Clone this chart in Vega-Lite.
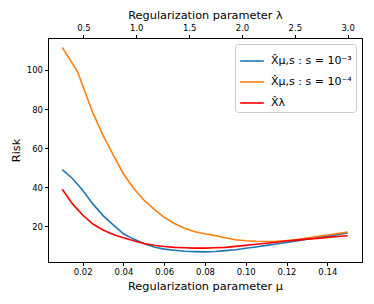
{
  "$schema": "https://vega.github.io/schema/vega-lite/v6.json",
  "width": 314,
  "height": 224,
  "autosize": {"type": "none"},
  "padding": {"left": 48, "top": 38, "right": 12, "bottom": 42},
  "config": {
    "font": "DejaVu Sans",
    "view": {"stroke": "black", "strokeWidth": 1},
    "axis": {
      "grid": false,
      "labelFontSize": 8.5,
      "titleFontSize": 11.3,
      "titleFontWeight": "normal",
      "labelColor": "black",
      "titleColor": "black",
      "tickColor": "black",
      "domainColor": "black",
      "tickSize": 3.5,
      "labelPadding": 2
    }
  },
  "datasets": {
    "curves": [
      {"series": "X̂μ,s : s = 10⁻³", "mu": 0.01, "risk": 49},
      {"series": "X̂μ,s : s = 10⁻³", "mu": 0.015, "risk": 44.5},
      {"series": "X̂μ,s : s = 10⁻³", "mu": 0.02, "risk": 38.5},
      {"series": "X̂μ,s : s = 10⁻³", "mu": 0.025, "risk": 31.5},
      {"series": "X̂μ,s : s = 10⁻³", "mu": 0.03, "risk": 25.5},
      {"series": "X̂μ,s : s = 10⁻³", "mu": 0.035, "risk": 20.8},
      {"series": "X̂μ,s : s = 10⁻³", "mu": 0.04, "risk": 16.2},
      {"series": "X̂μ,s : s = 10⁻³", "mu": 0.045, "risk": 13.5},
      {"series": "X̂μ,s : s = 10⁻³", "mu": 0.05, "risk": 11.3},
      {"series": "X̂μ,s : s = 10⁻³", "mu": 0.055, "risk": 9.5},
      {"series": "X̂μ,s : s = 10⁻³", "mu": 0.06, "risk": 8.4},
      {"series": "X̂μ,s : s = 10⁻³", "mu": 0.065, "risk": 7.8},
      {"series": "X̂μ,s : s = 10⁻³", "mu": 0.07, "risk": 7.3},
      {"series": "X̂μ,s : s = 10⁻³", "mu": 0.075, "risk": 7.1},
      {"series": "X̂μ,s : s = 10⁻³", "mu": 0.08, "risk": 7.0},
      {"series": "X̂μ,s : s = 10⁻³", "mu": 0.085, "risk": 7.2},
      {"series": "X̂μ,s : s = 10⁻³", "mu": 0.09, "risk": 7.6},
      {"series": "X̂μ,s : s = 10⁻³", "mu": 0.095, "risk": 8.1},
      {"series": "X̂μ,s : s = 10⁻³", "mu": 0.1, "risk": 8.8},
      {"series": "X̂μ,s : s = 10⁻³", "mu": 0.105, "risk": 9.5},
      {"series": "X̂μ,s : s = 10⁻³", "mu": 0.11, "risk": 10.3},
      {"series": "X̂μ,s : s = 10⁻³", "mu": 0.115, "risk": 11.0},
      {"series": "X̂μ,s : s = 10⁻³", "mu": 0.12, "risk": 11.8},
      {"series": "X̂μ,s : s = 10⁻³", "mu": 0.125, "risk": 12.6},
      {"series": "X̂μ,s : s = 10⁻³", "mu": 0.13, "risk": 13.4},
      {"series": "X̂μ,s : s = 10⁻³", "mu": 0.135, "risk": 14.2},
      {"series": "X̂μ,s : s = 10⁻³", "mu": 0.14, "risk": 14.9},
      {"series": "X̂μ,s : s = 10⁻³", "mu": 0.145, "risk": 15.8},
      {"series": "X̂μ,s : s = 10⁻³", "mu": 0.15, "risk": 16.6},
      {"series": "X̂μ,s : s = 10⁻⁴", "mu": 0.01, "risk": 111.5},
      {"series": "X̂μ,s : s = 10⁻⁴", "mu": 0.0175, "risk": 99},
      {"series": "X̂μ,s : s = 10⁻⁴", "mu": 0.02, "risk": 92},
      {"series": "X̂μ,s : s = 10⁻⁴", "mu": 0.025, "risk": 78},
      {"series": "X̂μ,s : s = 10⁻⁴", "mu": 0.03, "risk": 66.5},
      {"series": "X̂μ,s : s = 10⁻⁴", "mu": 0.035, "risk": 56.5},
      {"series": "X̂μ,s : s = 10⁻⁴", "mu": 0.04, "risk": 46.8},
      {"series": "X̂μ,s : s = 10⁻⁴", "mu": 0.045, "risk": 39.5},
      {"series": "X̂μ,s : s = 10⁻⁴", "mu": 0.05, "risk": 33.5},
      {"series": "X̂μ,s : s = 10⁻⁴", "mu": 0.055, "risk": 28.8},
      {"series": "X̂μ,s : s = 10⁻⁴", "mu": 0.06, "risk": 24.6},
      {"series": "X̂μ,s : s = 10⁻⁴", "mu": 0.065, "risk": 21.5},
      {"series": "X̂μ,s : s = 10⁻⁴", "mu": 0.07, "risk": 19.1},
      {"series": "X̂μ,s : s = 10⁻⁴", "mu": 0.075, "risk": 17.3},
      {"series": "X̂μ,s : s = 10⁻⁴", "mu": 0.08, "risk": 16.2},
      {"series": "X̂μ,s : s = 10⁻⁴", "mu": 0.085, "risk": 15.3},
      {"series": "X̂μ,s : s = 10⁻⁴", "mu": 0.09, "risk": 14.2},
      {"series": "X̂μ,s : s = 10⁻⁴", "mu": 0.095, "risk": 13.2},
      {"series": "X̂μ,s : s = 10⁻⁴", "mu": 0.1, "risk": 12.7},
      {"series": "X̂μ,s : s = 10⁻⁴", "mu": 0.105, "risk": 12.4},
      {"series": "X̂μ,s : s = 10⁻⁴", "mu": 0.11, "risk": 12.3},
      {"series": "X̂μ,s : s = 10⁻⁴", "mu": 0.115, "risk": 12.4},
      {"series": "X̂μ,s : s = 10⁻⁴", "mu": 0.12, "risk": 12.8},
      {"series": "X̂μ,s : s = 10⁻⁴", "mu": 0.125, "risk": 13.3},
      {"series": "X̂μ,s : s = 10⁻⁴", "mu": 0.13, "risk": 14.0},
      {"series": "X̂μ,s : s = 10⁻⁴", "mu": 0.135, "risk": 14.8},
      {"series": "X̂μ,s : s = 10⁻⁴", "mu": 0.14, "risk": 15.6},
      {"series": "X̂μ,s : s = 10⁻⁴", "mu": 0.145, "risk": 16.3},
      {"series": "X̂μ,s : s = 10⁻⁴", "mu": 0.15, "risk": 17.1},
      {"series": "X̂λ", "mu": 0.01, "risk": 39},
      {"series": "X̂λ", "mu": 0.015, "risk": 31.5},
      {"series": "X̂λ", "mu": 0.02, "risk": 25.8},
      {"series": "X̂λ", "mu": 0.025, "risk": 21.2},
      {"series": "X̂λ", "mu": 0.03, "risk": 18.2},
      {"series": "X̂λ", "mu": 0.035, "risk": 15.9},
      {"series": "X̂λ", "mu": 0.04, "risk": 14.2},
      {"series": "X̂λ", "mu": 0.045, "risk": 12.7},
      {"series": "X̂λ", "mu": 0.05, "risk": 11.3},
      {"series": "X̂λ", "mu": 0.055, "risk": 10.4},
      {"series": "X̂λ", "mu": 0.06, "risk": 9.7},
      {"series": "X̂λ", "mu": 0.065, "risk": 9.3},
      {"series": "X̂λ", "mu": 0.07, "risk": 9.1},
      {"series": "X̂λ", "mu": 0.075, "risk": 8.9},
      {"series": "X̂λ", "mu": 0.08, "risk": 8.9},
      {"series": "X̂λ", "mu": 0.085, "risk": 9.1},
      {"series": "X̂λ", "mu": 0.09, "risk": 9.3},
      {"series": "X̂λ", "mu": 0.095, "risk": 9.8},
      {"series": "X̂λ", "mu": 0.1, "risk": 10.3},
      {"series": "X̂λ", "mu": 0.105, "risk": 10.9},
      {"series": "X̂λ", "mu": 0.11, "risk": 11.4},
      {"series": "X̂λ", "mu": 0.115, "risk": 11.9},
      {"series": "X̂λ", "mu": 0.12, "risk": 12.5},
      {"series": "X̂λ", "mu": 0.125, "risk": 13.0},
      {"series": "X̂λ", "mu": 0.13, "risk": 13.5},
      {"series": "X̂λ", "mu": 0.135, "risk": 13.9},
      {"series": "X̂λ", "mu": 0.14, "risk": 14.4},
      {"series": "X̂λ", "mu": 0.145, "risk": 14.8},
      {"series": "X̂λ", "mu": 0.15, "risk": 15.2}
    ],
    "lambdas": [
      {"lambda": 0.3},
      {"lambda": 3.0}
    ]
  },
  "layer": [
    {
      "data": {"name": "curves"},
      "mark": {"type": "line", "strokeWidth": 1.6},
      "encoding": {
        "x": {
          "field": "mu", "type": "quantitative",
          "scale": {"domain": [0.003, 0.157], "nice": false, "zero": false},
          "axis": {
            "orient": "bottom",
            "title": "Regularization parameter μ",
            "values": [0.02, 0.04, 0.06, 0.08, 0.1, 0.12, 0.14],
            "format": ".2f",
            "titlePadding": 4
          }
        },
        "y": {
          "field": "risk", "type": "quantitative",
          "scale": {"domain": [1.8, 116.3], "nice": false, "zero": false},
          "axis": {
            "title": "Risk",
            "values": [20, 40, 60, 80, 100],
            "titlePadding": 5
          }
        },
        "color": {
          "field": "series", "type": "nominal",
          "scale": {
            "domain": ["X̂μ,s : s = 10⁻³", "X̂μ,s : s = 10⁻⁴", "X̂λ"],
            "range": ["#1f77b4", "#ff7f0e", "#ff0000"]
          },
          "legend": {
            "title": null,
            "orient": "top-right",
            "offset": 6,
            "symbolType": "stroke",
            "symbolStrokeWidth": 1.6,
            "symbolSize": 560,
            "labelFontSize": 11,
            "labelColor": "black",
            "labelOffset": 6,
            "rowPadding": 3,
            "padding": 4,
            "strokeColor": "#cccccc",
            "fillColor": "white",
            "cornerRadius": 3
          }
        }
      }
    },
    {
      "data": {"name": "lambdas"},
      "mark": {"type": "point", "opacity": 0},
      "encoding": {
        "x": {
          "field": "lambda", "type": "quantitative",
          "scale": {"domain": [0.165, 3.135], "nice": false, "zero": false},
          "axis": {
            "orient": "top",
            "title": "Regularization parameter λ",
            "values": [0.5, 1.0, 1.5, 2.0, 2.5, 3.0],
            "format": ".1f",
            "titlePadding": 3
          }
        }
      }
    }
  ],
  "resolve": {"scale": {"x": "independent"}}
}
